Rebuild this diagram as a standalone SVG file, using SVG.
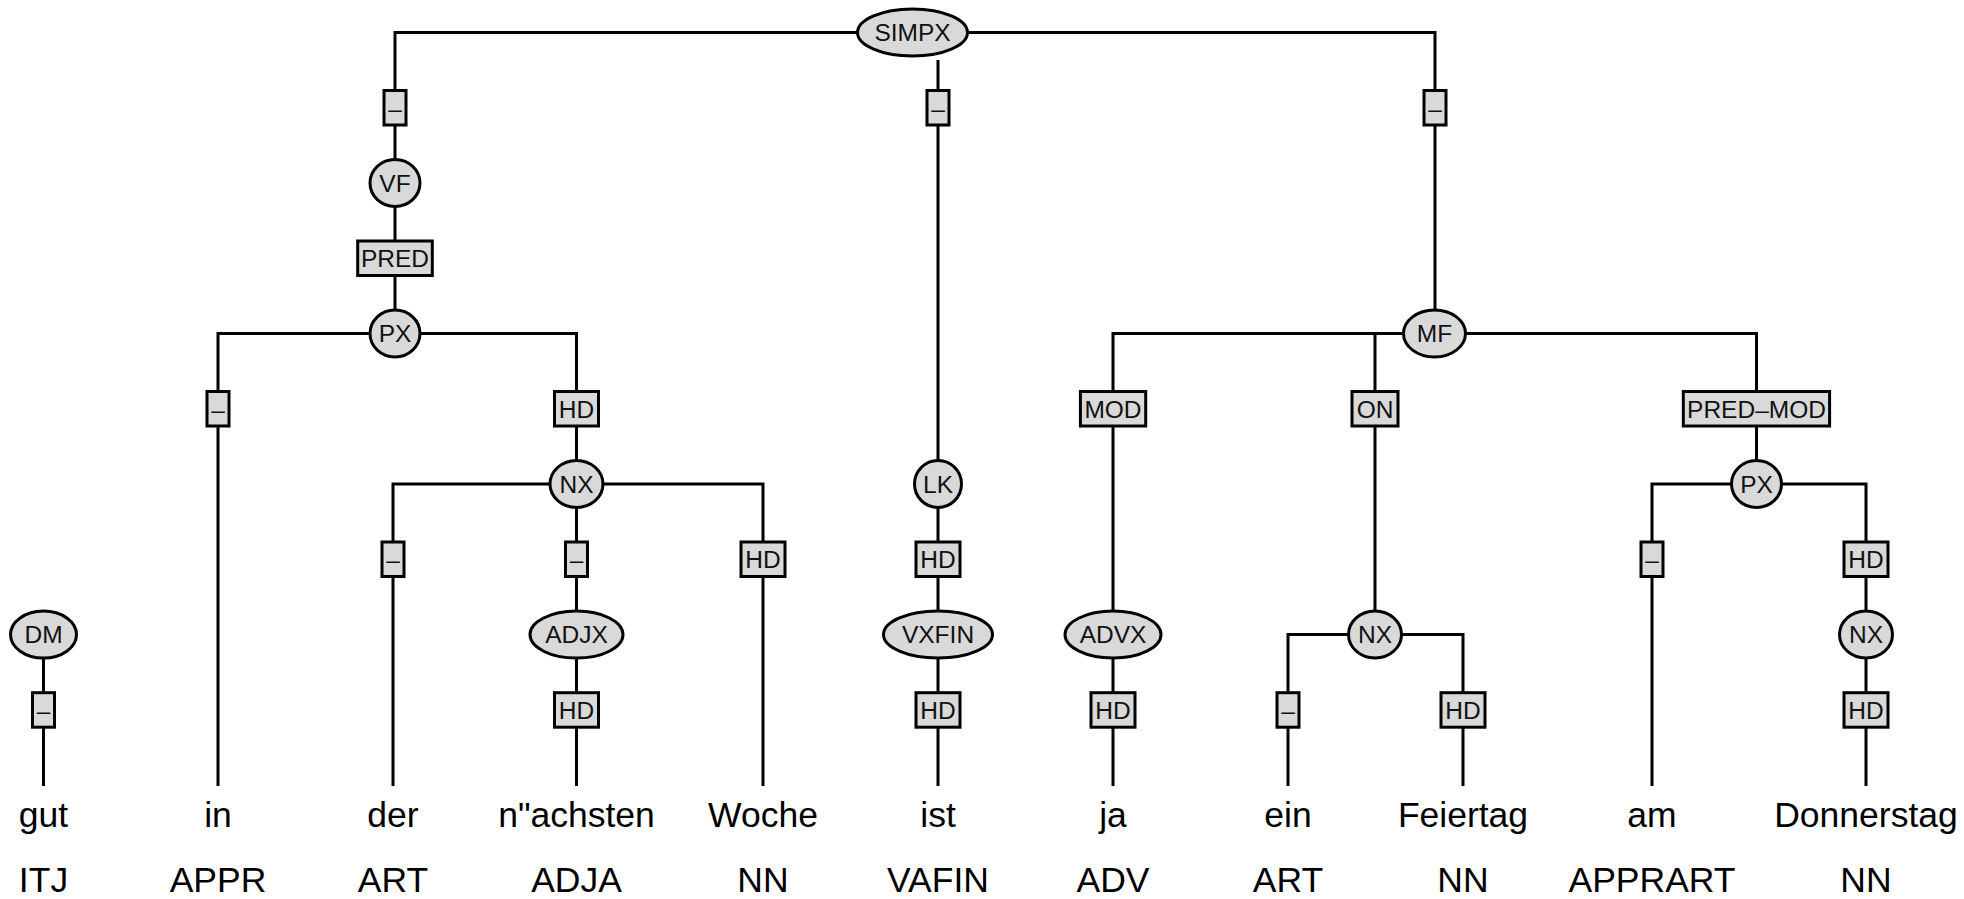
<svg xmlns="http://www.w3.org/2000/svg" width="1964" height="899" viewBox="0 0 1964 899">
  <style>
    .edge { fill: none; stroke: #000; stroke-width: 3; stroke-linejoin: miter; stroke-linecap: butt; }
    .cat { fill: #d9d9d9; stroke: #000; stroke-width: 3; }
    .lab { fill: #d9d9d9; stroke: #000; stroke-width: 3; }
    .t { font-family: "Liberation Sans", Arial, Helvetica, sans-serif; font-size: 24.5px; fill: #111; text-anchor: middle; }
    .w { font-family: "Liberation Sans", Arial, Helvetica, sans-serif; font-size: 35.5px; fill: #000; text-anchor: middle; }
  </style>

  <!-- tree edges -->
  <g id="connectors">
    <path class="edge" d="M857,32.5 H395 V333.5"/>
    <path class="edge" d="M938,60 V786"/>
    <path class="edge" d="M968,32.5 H1435 V333.5"/>
    <path class="edge" d="M395,333.5 H218 V786"/>
    <path class="edge" d="M395,333.5 H576.5 V786"/>
    <path class="edge" d="M576.5,484 H393 V786"/>
    <path class="edge" d="M576.5,484 H763 V786"/>
    <path class="edge" d="M1435,333.5 H1113 V786"/>
    <path class="edge" d="M1435,333.5 H1375 V634.6"/>
    <path class="edge" d="M1375,634.6 H1288 V786"/>
    <path class="edge" d="M1375,634.6 H1463 V786"/>
    <path class="edge" d="M1435,333.5 H1756.5 V484"/>
    <path class="edge" d="M1756.5,484 H1652 V786"/>
    <path class="edge" d="M1756.5,484 H1866 V786"/>
    <path class="edge" d="M43.5,634.6 V786"/>
  </g>

  <!-- edge labels -->
  <g id="edge-labels">
    <g id="e-simpx-vf"><rect class="lab" x="384" y="90.5" width="22" height="34.5"/><text class="t" x="395" y="116.5">–</text></g>
    <g id="e-simpx-lk"><rect class="lab" x="927" y="90.5" width="22" height="34.5"/><text class="t" x="938" y="116.5">–</text></g>
    <g id="e-simpx-mf"><rect class="lab" x="1424" y="90.5" width="22" height="34.5"/><text class="t" x="1435" y="116.5">–</text></g>
    <g id="e-vf-px"><rect class="lab" x="357.7" y="241" width="74.6" height="34.5"/><text class="t" x="395" y="267.1">PRED</text></g>
    <g id="e-px-in"><rect class="lab" x="207" y="391.5" width="22" height="34.5"/><text class="t" x="218" y="417.6">–</text></g>
    <g id="e-px-nx"><rect class="lab" x="554.5" y="391.5" width="44" height="34.5"/><text class="t" x="576.5" y="417.6">HD</text></g>
    <g id="e-nx-der"><rect class="lab" x="382" y="542" width="22" height="34.5"/><text class="t" x="393" y="568.1">–</text></g>
    <g id="e-nx-adjx"><rect class="lab" x="565.5" y="542" width="22" height="34.5"/><text class="t" x="576.5" y="568.1">–</text></g>
    <g id="e-nx-woche"><rect class="lab" x="741" y="542" width="44" height="34.5"/><text class="t" x="763" y="568.1">HD</text></g>
    <g id="e-adjx-naechsten"><rect class="lab" x="554.5" y="692.7" width="44" height="34.5"/><text class="t" x="576.5" y="718.8">HD</text></g>
    <g id="e-lk-vxfin"><rect class="lab" x="916" y="542" width="44" height="34.5"/><text class="t" x="938" y="568.1">HD</text></g>
    <g id="e-vxfin-ist"><rect class="lab" x="916" y="692.7" width="44" height="34.5"/><text class="t" x="938" y="718.8">HD</text></g>
    <g id="e-mf-advx"><rect class="lab" x="1080.4" y="391.5" width="65.3" height="34.5"/><text class="t" x="1113" y="417.6">MOD</text></g>
    <g id="e-mf-nx"><rect class="lab" x="1352" y="391.5" width="46" height="34.5"/><text class="t" x="1375" y="417.6">ON</text></g>
    <g id="e-mf-px"><rect class="lab" x="1683.3" y="391.5" width="146.3" height="34.5"/><text class="t" x="1756.5" y="417.6">PRED–MOD</text></g>
    <g id="e-advx-ja"><rect class="lab" x="1091" y="692.7" width="44" height="34.5"/><text class="t" x="1113" y="718.8">HD</text></g>
    <g id="e-nx-ein"><rect class="lab" x="1277" y="692.7" width="22" height="34.5"/><text class="t" x="1288" y="718.8">–</text></g>
    <g id="e-nx-feiertag"><rect class="lab" x="1441" y="692.7" width="44" height="34.5"/><text class="t" x="1463" y="718.8">HD</text></g>
    <g id="e-px-am"><rect class="lab" x="1641" y="542" width="22" height="34.5"/><text class="t" x="1652" y="568.1">–</text></g>
    <g id="e-px-nx2"><rect class="lab" x="1844" y="542" width="44" height="34.5"/><text class="t" x="1866" y="568.1">HD</text></g>
    <g id="e-nx-donnerstag"><rect class="lab" x="1844" y="692.7" width="44" height="34.5"/><text class="t" x="1866" y="718.8">HD</text></g>
    <g id="e-dm-gut"><rect class="lab" x="32.5" y="692.7" width="22" height="34.5"/><text class="t" x="43.5" y="718.8">–</text></g>
  </g>

  <!-- phrase nodes -->
  <g id="n-simpx"><ellipse class="cat" cx="912.5" cy="32.5" rx="55" ry="23.5"/><text class="t" x="912.5" y="41.3">SIMPX</text></g>
  <g id="n-vf"><ellipse class="cat" cx="395" cy="183" rx="25" ry="23.5"/><text class="t" x="395" y="191.8">VF</text></g>
  <g id="n-px1"><ellipse class="cat" cx="395" cy="333.5" rx="25" ry="23.5"/><text class="t" x="395" y="342.3">PX</text></g>
  <g id="n-nx1"><ellipse class="cat" cx="576.5" cy="484" rx="26.5" ry="23.5"/><text class="t" x="576.5" y="492.8">NX</text></g>
  <g id="n-adjx"><ellipse class="cat" cx="576.5" cy="634.6" rx="46.5" ry="23.5"/><text class="t" x="576.5" y="643.4">ADJX</text></g>
  <g id="n-dm"><ellipse class="cat" cx="43.5" cy="634.6" rx="33" ry="23.5"/><text class="t" x="43.5" y="643.4">DM</text></g>
  <g id="n-lk"><ellipse class="cat" cx="938" cy="484" rx="23.5" ry="23.5"/><text class="t" x="938" y="492.8">LK</text></g>
  <g id="n-vxfin"><ellipse class="cat" cx="938" cy="634.6" rx="54.5" ry="23.5"/><text class="t" x="938" y="643.4">VXFIN</text></g>
  <g id="n-mf"><ellipse class="cat" cx="1434.5" cy="333.5" rx="31" ry="23.5"/><text class="t" x="1434.5" y="342.3">MF</text></g>
  <g id="n-advx"><ellipse class="cat" cx="1113" cy="634.6" rx="48" ry="23.5"/><text class="t" x="1113" y="643.4">ADVX</text></g>
  <g id="n-nx2"><ellipse class="cat" cx="1375" cy="634.6" rx="26.5" ry="23.5"/><text class="t" x="1375" y="643.4">NX</text></g>
  <g id="n-px2"><ellipse class="cat" cx="1756.5" cy="484" rx="25" ry="23.5"/><text class="t" x="1756.5" y="492.8">PX</text></g>
  <g id="n-nx3"><ellipse class="cat" cx="1866" cy="634.6" rx="26.5" ry="23.5"/><text class="t" x="1866" y="643.4">NX</text></g>

  <!-- terminals: word form and part-of-speech tag -->
  <g id="t-gut"><text class="w" x="43.5" y="826.7">gut</text><text class="w" x="43.5" y="891.7">ITJ</text></g>
  <g id="t-in"><text class="w" x="218" y="826.7">in</text><text class="w" x="218" y="891.7">APPR</text></g>
  <g id="t-der"><text class="w" x="393" y="826.7">der</text><text class="w" x="393" y="891.7">ART</text></g>
  <g id="t-naechsten"><text class="w" x="576.5" y="826.7">n"achsten</text><text class="w" x="576.5" y="891.7">ADJA</text></g>
  <g id="t-woche"><text class="w" x="763" y="826.7">Woche</text><text class="w" x="763" y="891.7">NN</text></g>
  <g id="t-ist"><text class="w" x="938" y="826.7">ist</text><text class="w" x="938" y="891.7">VAFIN</text></g>
  <g id="t-ja"><text class="w" x="1113" y="826.7">ja</text><text class="w" x="1113" y="891.7">ADV</text></g>
  <g id="t-ein"><text class="w" x="1288" y="826.7">ein</text><text class="w" x="1288" y="891.7">ART</text></g>
  <g id="t-feiertag"><text class="w" x="1463" y="826.7">Feiertag</text><text class="w" x="1463" y="891.7">NN</text></g>
  <g id="t-am"><text class="w" x="1652" y="826.7">am</text><text class="w" x="1652" y="891.7">APPRART</text></g>
  <g id="t-donnerstag"><text class="w" x="1866" y="826.7">Donnerstag</text><text class="w" x="1866" y="891.7">NN</text></g>
</svg>
